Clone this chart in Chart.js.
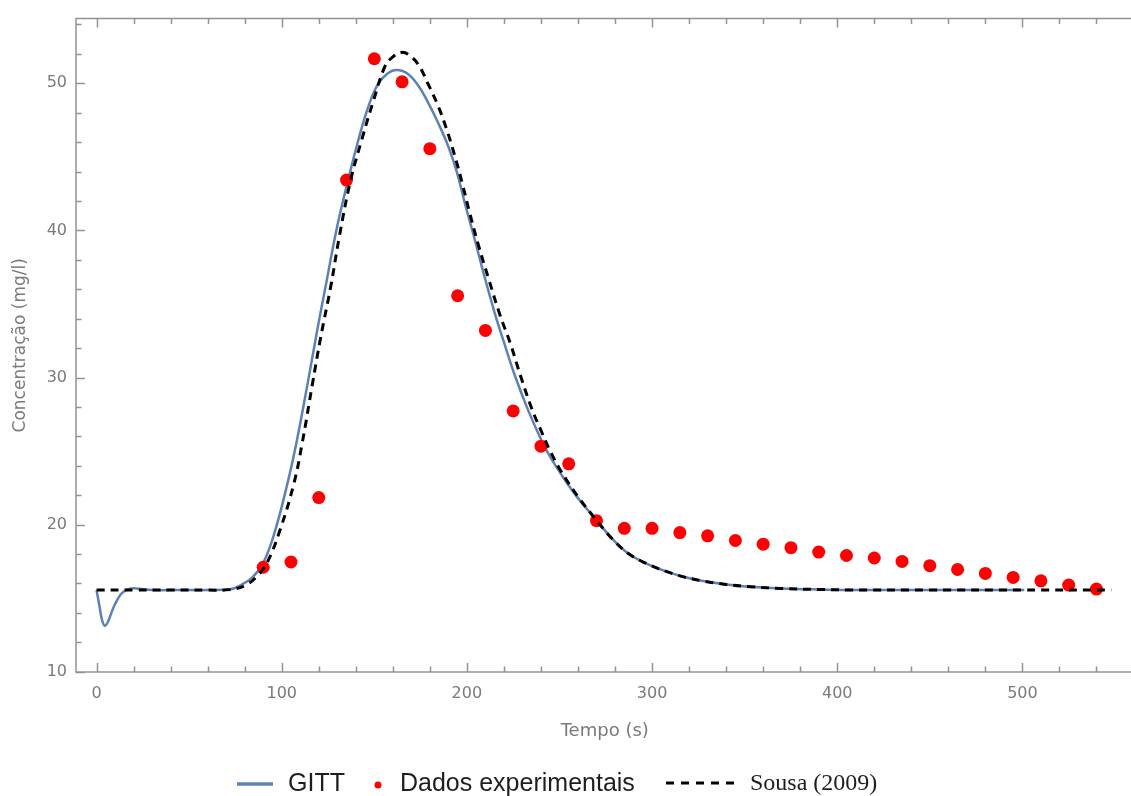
<!DOCTYPE html>
<html>
<head>
<meta charset="utf-8">
<script src="https://cdn.jsdelivr.net/npm/chart.js@4.4.1/dist/chart.umd.min.js"></script>
<style>
  html, body { margin: 0; padding: 0; background: #fff; overflow: hidden; }
  #wrap { width: 1140px; height: 796px; position: relative; }
</style>
</head>
<body>
<div id="wrap"><canvas id="chart"></canvas></div>
<script>
// GITT model curve (s, mg/l)
const gittTime = [0, 1.5, 3, 4.5, 6, 8, 10, 13, 16, 20, 25, 30, 45, 60, 72, 77, 84, 90, 96, 103,
  108, 114, 119, 124, 130, 136, 141.5, 147, 152, 157.5, 162, 168, 174, 179, 184.5, 190, 194.5, 199, 204, 209,
  215, 220, 226, 233, 240, 245, 251, 260, 269, 278, 287, 297, 308, 317, 326, 340, 353, 370, 390, 406, 450, 501];
const gittConc = [15.55, 14.5, 13.5, 13.12, 13.35, 14.0, 14.6, 15.25, 15.55, 15.68, 15.6, 15.55, 15.55, 15.55, 15.6, 15.82, 16.4, 17.4, 19.4, 22.75,
  25.6, 29.6, 33.1, 36.4, 40.3, 43.5, 46.2, 48.5, 49.95, 50.7, 50.9, 50.65, 49.8, 48.7, 47.3, 45.7, 44.0, 41.8, 39.5, 37.1,
  34.4, 32.4, 30.1, 27.8, 25.8, 24.6, 23.4, 21.8, 20.45, 19.1, 18.05, 17.35, 16.8, 16.45, 16.2, 15.93, 15.78, 15.66, 15.59, 15.56, 15.55, 15.55];

// Sousa (2009) curve
const sousaTime = [0, 20, 40, 60, 72, 80, 86, 92, 99, 106.5, 111, 116.5, 121, 126.5, 131, 137, 143.3, 149.5, 155.8, 160,
  164.5, 168.4, 173.7, 179.1, 184.4, 189, 193.4, 197.5, 201.5, 206, 212, 218, 223.5, 229, 235, 240, 245, 251, 260, 269,
  278, 287, 297, 308, 317, 326, 340, 353, 370, 390, 406, 450, 500, 548];
const sousaConc = [15.55, 15.55, 15.55, 15.55, 15.58, 15.85, 16.4, 17.4, 19.6, 22.75, 25.5, 29.5, 32.7, 36.2, 39.5, 43.3, 46.2, 48.8, 51.17, 51.8,
  52.1, 51.96, 51.29, 49.94, 48.48, 46.9, 45.1, 43.2, 41.2, 39.1, 36.6, 34.2, 32.3, 30.1, 27.9, 26.4, 25.0, 23.6, 21.9, 20.45,
  19.1, 18.05, 17.35, 16.8, 16.45, 16.2, 15.93, 15.78, 15.66, 15.59, 15.56, 15.55, 15.55, 15.55];

// experimental data
const expTime = [90, 105, 120, 135, 150, 165, 180, 195, 210, 225, 240, 255, 270, 285, 300, 315,
  330, 345, 360, 375, 390, 405, 420, 435, 450, 465, 480, 495, 510, 525, 540];
const expConc = [17.1, 17.46, 21.84, 43.42, 51.67, 50.1, 45.56, 35.56, 33.2, 27.73, 25.33, 24.13, 20.27, 19.75, 19.75, 19.46,
  19.24, 18.92, 18.67, 18.43, 18.13, 17.9, 17.73, 17.5, 17.21, 16.95, 16.68, 16.41, 16.18, 15.89, 15.62];

const xTicks = [0, 100, 200, 300, 400, 500];
const yTicks = [10, 20, 30, 40, 50];

const toPoints = (xs, ys) => xs.map((x, i) => ({ x: x, y: ys[i] }));

const axisColor = '#929292';
const labelColor = '#7a7a7a';

// Mathematica-style frame with inward ticks (right side lies off-canvas)
const frameTicks = {
  id: 'frameTicks',
  beforeDatasetsDraw(chart) {
    const { ctx, chartArea: a, scales: { x, y } } = chart;
    ctx.save();
    ctx.strokeStyle = axisColor;
    ctx.lineWidth = 1.5;
    ctx.beginPath();
    ctx.moveTo(a.right + 5, a.top); ctx.lineTo(a.left, a.top);
    ctx.lineTo(a.left, a.bottom); ctx.lineTo(a.right + 5, a.bottom);
    for (let t = 0; t <= x.max; t += 20) {
      const px = Math.round(x.getPixelForValue(t)) + 0.5;
      const len = t % 100 === 0 ? 9 : 5.5;
      ctx.moveTo(px, a.bottom); ctx.lineTo(px, a.bottom - len);
      ctx.moveTo(px, a.top); ctx.lineTo(px, a.top + len);
    }
    for (let v = 10; v <= y.max; v += 2) {
      const py = Math.round(y.getPixelForValue(v)) + 0.5;
      const len = v % 10 === 0 ? 9 : 5.5;
      ctx.moveTo(a.left, py); ctx.lineTo(a.left + len, py);
    }
    ctx.stroke();
    ctx.restore();
  }
};

// legend row under the plot
const bottomLegend = {
  id: 'bottomLegend',
  afterDraw(chart) {
    const ctx = chart.ctx;
    const ds = chart.data.datasets;
    ctx.save();
    ctx.textBaseline = 'alphabetic';
    ctx.fillStyle = '#1e1e1e';

    ctx.strokeStyle = ds[0].borderColor;
    ctx.lineWidth = 3.5;
    ctx.beginPath(); ctx.moveTo(237, 784); ctx.lineTo(273, 784); ctx.stroke();
    ctx.font = '25px "Liberation Sans", Arial, sans-serif';
    ctx.fillText(ds[0].label, 288, 791);

    ctx.fillStyle = ds[1].backgroundColor;
    ctx.beginPath(); ctx.arc(378, 785, 3.5, 0, Math.PI * 2); ctx.fill();
    ctx.fillStyle = '#1e1e1e';
    ctx.fillText(ds[1].label, 400, 791);

    ctx.strokeStyle = '#000';
    ctx.lineWidth = 3;
    ctx.setLineDash([8, 7]);
    ctx.beginPath(); ctx.moveTo(666, 783); ctx.lineTo(740, 783); ctx.stroke();
    ctx.setLineDash([]);
    ctx.font = '24px "Liberation Serif", "Times New Roman", serif';
    ctx.fillText(ds[2].label, 750, 790);
    ctx.restore();
  }
};

new Chart(document.getElementById('chart'), {
  type: 'line',
  data: {
    datasets: [
      {
        label: 'GITT',
        data: toPoints(gittTime, gittConc),
        borderColor: '#5e81b5',
        borderWidth: 2.5,
        pointRadius: 0,
        tension: 0.4,
        fill: false,
        order: 2
      },
      {
        label: 'Dados experimentais',
        data: toPoints(expTime, expConc),
        showLine: false,
        backgroundColor: '#ff0000',
        borderColor: '#ff0000',
        borderWidth: 0,
        pointRadius: 6.5,
        order: 1
      },
      {
        label: 'Sousa (2009)',
        data: toPoints(sousaTime, sousaConc),
        borderColor: '#000000',
        borderWidth: 3,
        borderDash: [8, 6],
        pointRadius: 0,
        tension: 0.4,
        fill: false,
        order: 0
      }
    ]
  },
  options: {
    responsive: true,
    maintainAspectRatio: false,
    animation: false,
    layout: { padding: { top: 14, right: 1, left: 0, bottom: 0 } },
    plugins: {
      legend: { display: false },
      tooltip: { enabled: false }
    },
    scales: {
      x: {
        type: 'linear',
        min: -11.1,
        max: 560,
        grid: { display: false, drawTicks: false },
        border: { display: false },
        afterBuildTicks: (scale) => { scale.ticks = xTicks.map(v => ({ value: v })); },
        afterFit: (scale) => { scale.height = 124; },
        ticks: {
          color: labelColor,
          padding: 12,
          maxRotation: 0,
          font: { family: '"DejaVu Sans", sans-serif', size: 16 }
        },
        title: {
          display: true,
          text: 'Tempo (s)',
          color: labelColor,
          font: { family: '"DejaVu Sans", sans-serif', size: 18 },
          padding: { top: 0, bottom: 54 }
        }
      },
      y: {
        type: 'linear',
        min: 9.98,
        max: 54.4,
        grid: { display: false, drawTicks: false },
        border: { display: false },
        afterBuildTicks: (scale) => { scale.ticks = yTicks.map(v => ({ value: v })); },
        afterFit: (scale) => { scale.width = 76; },
        ticks: {
          color: labelColor,
          padding: 9,
          font: { family: '"DejaVu Sans", sans-serif', size: 16 }
        },
        title: {
          display: true,
          text: 'Concentração (mg/l)',
          color: labelColor,
          font: { family: '"DejaVu Sans", sans-serif', size: 17 },
          padding: { top: 10, bottom: 0 }
        }
      }
    }
  },
  plugins: [frameTicks, bottomLegend]
});
</script>
</body>
</html>
